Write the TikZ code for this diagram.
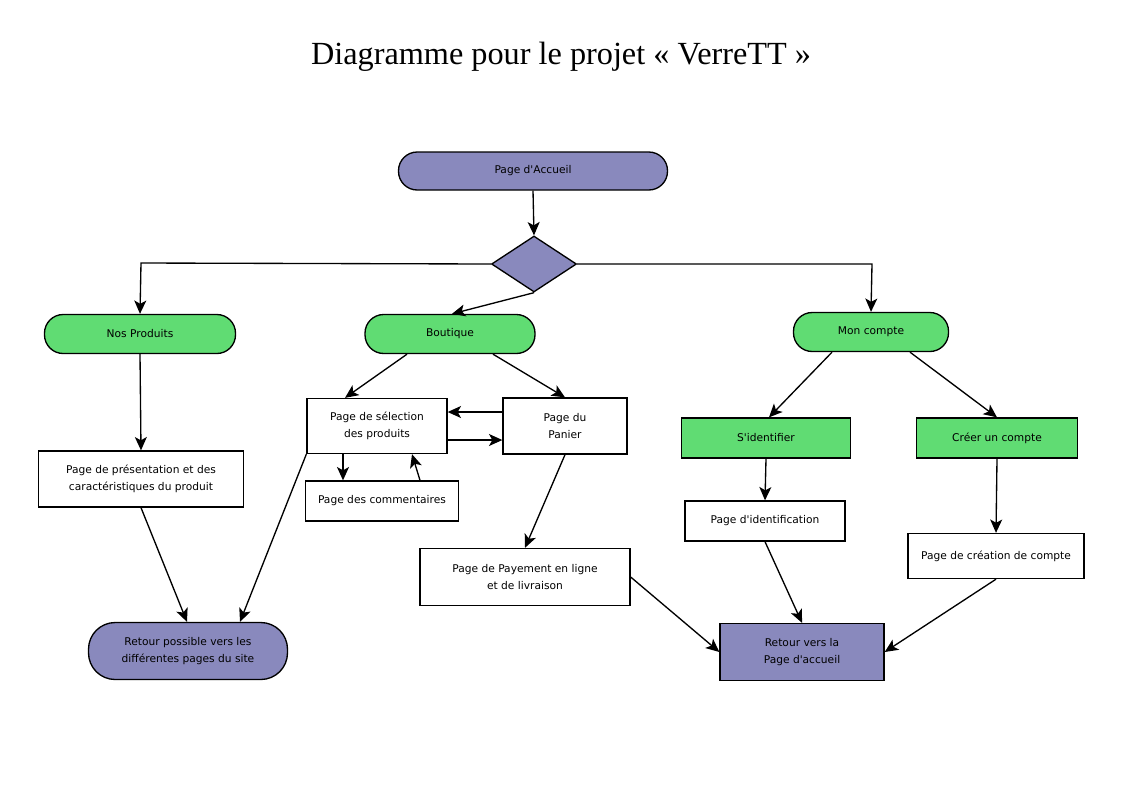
\documentclass[tikz,border=0pt]{standalone}
\usepackage{fontspec}
\setmainfont{Liberation Serif}
\newfontfamily\boitefont{DejaVu Sans}
\usepackage{xcolor}
\usetikzlibrary{shapes.geometric,arrows.meta,calc}
\definecolor{violet}{RGB}{137,137,189}
\definecolor{vert}{RGB}{96,220,115}
\tikzset{
  boite/.style={draw, line width=1pt, inner sep=0pt, align=center,
    font=\boitefont\fontsize{8}{12.5}\selectfont},
  taille/.style 2 args={minimum width=#1*0.75pt, minimum height=#2*0.75pt},
  arrondi/.style={boite, rounded corners=14pt},
  fleche/.style={line width=1pt, -{Stealth[length=10pt,width=9pt,inset=2.5pt]}},
  trait/.style={line width=1pt}
}
\begin{document}
\begin{tikzpicture}[x=0.75pt,y=-0.75pt]
\useasboundingbox (0,0) rectangle (1123,794);
\node (titre) at (561,57) {\fontsize{24.2}{29}\selectfont Diagramme pour le projet « VerreTT »};
% noeuds
\node [arrondi, fill=violet, taille={269}{38}] (accueil) at (533,171) {Page d'Accueil};
\node [draw, line width=1pt, diamond, fill=violet, inner sep=0pt, minimum width=85*0.75pt, minimum height=56*0.75pt, aspect=1.5] (losange) at (534,264) {};
\node [arrondi, fill=vert, taille={191}{39}] (produits) at (140,334) {Nos Produits};
\node [arrondi, fill=vert, taille={170}{39}] (boutique) at (450,334) {Boutique};
\node [arrondi, fill=vert, taille={155}{39}] (compte) at (871,332) {Mon compte};
\node [boite, taille={140}{55}] (selection) at (377,426) {Page de sélection\\des produits};
\node [boite, taille={124}{56}] (panier) at (565,426) {Page du\\Panier};
\node [boite, taille={153}{40}] (commentaires) at (382,501) {Page des commentaires};
\node [boite, taille={205}{56}] (presentation) at (141,479) {Page de présentation et des\\caractéristiques du produit};
\node [arrondi, fill=violet, taille={199}{57}, rounded corners=20pt] (retoursite) at (188,651) {Retour possible vers les\\différentes pages du site};
\node [boite, taille={210}{57}] (payement) at (525,577) {Page de Payement en ligne\\et de livraison};
\node [boite, fill=vert, taille={169}{40}] (identifier) at (766,438) {S'identifier};
\node [boite, fill=vert, taille={161}{40}] (creer) at (997,438) {Créer un compte};
\node [boite, taille={160}{40}] (identification) at (765,521) {Page d'identification};
\node [boite, taille={176}{45}] (creation) at (996,556) {Page de création de compte};
\node [boite, fill=violet, taille={164}{57}] (retouraccueil) at (802,652) {Retour vers la\\Page d'accueil};
\coordinate (gauche) at (141,263);
\coordinate (droite) at (872,264);
% connecteurs
\draw [fleche] (accueil.south) -- (losange.north);
\draw [fleche] (losange.west) -- (gauche) -- (produits.north);
\draw [fleche] (losange.east) -- (droite) -- (compte.north);
\draw [fleche] (losange.south) -- ($(boutique.north)+(2,0)$);
\draw [fleche] ($(boutique.south)+(-43,0)$) -- ($(selection.north)+(-32,0)$);
\draw [fleche] ($(boutique.south)+(43,0)$) -- (panier.north);
\draw [fleche] ($(panier.west)+(0,-14)$) -- ($(selection.east)+(0,-14)$);
\draw [fleche] ($(selection.east)+(0,14)$) -- ($(panier.west)+(0,14)$);
\draw [fleche] ($(selection.south)+(-34,0)$) -- ($(commentaires.north)+(-39,0)$);
\draw [fleche] ($(commentaires.north)+(38,0)$) -- ($(selection.south)+(35,0)$);
\draw [fleche] (produits.south) -- (presentation.north);
\draw [fleche] (presentation.south) -- ($(retoursite.north)+(-1,0)$);
\draw [fleche] (selection.south west) -- ($(retoursite.north)+(52,0)$);
\draw [fleche] (panier.south) -- (payement.north);
\draw [fleche] (payement.east) -- (retouraccueil.west);
\draw [fleche] ($(compte.south)+(-39,0)$) -- ($(identifier.north)+(3,0)$);
\draw [fleche] ($(compte.south)+(39,0)$) -- (creer.north);
\draw [fleche] (identifier.south) -- (identification.north);
\draw [fleche] (creer.south) -- (creation.north);
\draw [fleche] (identification.south) -- (retouraccueil.north);
\draw [fleche] (creation.south) -- (retouraccueil.east);
\end{tikzpicture}
\end{document}
